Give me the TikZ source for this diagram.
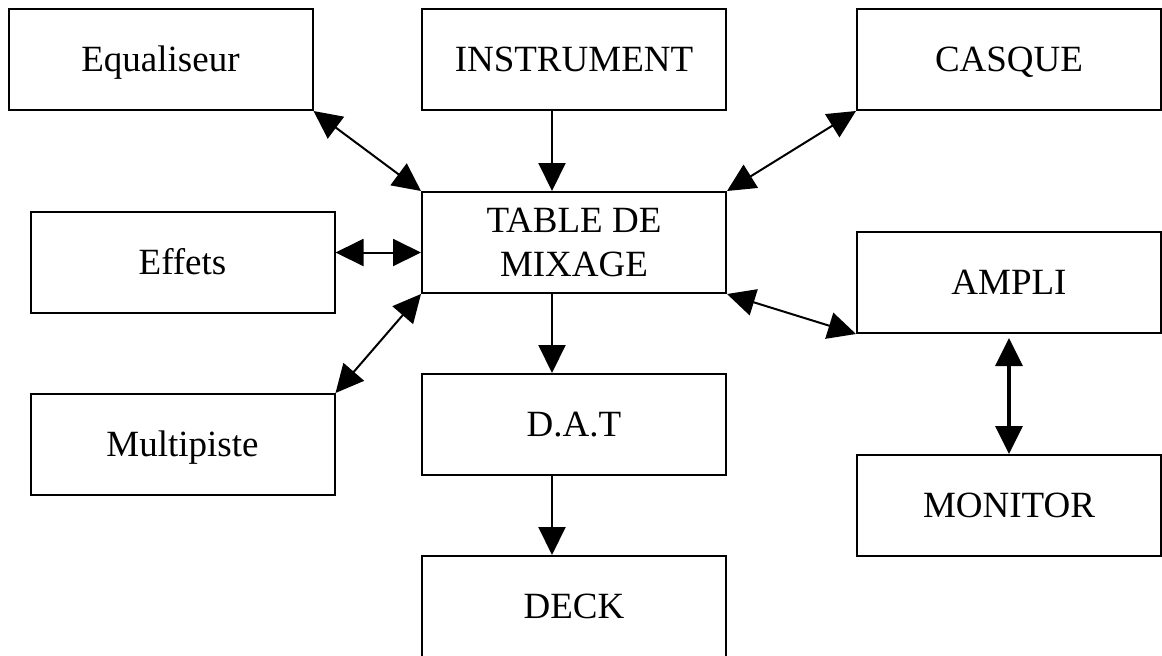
\documentclass[tikz,border=0pt]{standalone}
\usepackage{fontspec}
\setmainfont{Liberation Serif}
\usetikzlibrary{arrows.meta}
\tikzset{
  blk/.style={draw, line width=1pt, minimum width=152pt, minimum height=50.5pt,
    inner sep=0pt, align=center, font=\fontsize{18.5}{22}\selectfont},
  oneline/.style={text height=12.2pt, text depth=0pt},
  link/.style={line width=1pt, -{Triangle[length=14pt,width=13.5pt]}},
  duplex/.style={line width=1pt, {Triangle[length=14pt,width=13.5pt]}-{Triangle[length=14pt,width=13.5pt]}},
}
\begin{document}
\begin{tikzpicture}[x=0.5pt, y=-0.5pt]
\useasboundingbox (0,0) rectangle (1162,655);

% equipment blocks
\node[blk, oneline] (equ)     at (160.5, 59.5)  {Equaliseur};
\node[blk, oneline] (instr)   at (574, 59.5)    {INSTRUMENT};
\node[blk, oneline] (casque)  at (1009, 59.5)   {CASQUE};
\node[blk]          (table)   at (574, 242.5)   {TABLE DE\\MIXAGE};
\node[blk, oneline] (effets)  at (182.5, 262.5) {Effets};
\node[blk, oneline] (ampli)   at (1009, 282.5)  {AMPLI};
\node[blk, oneline] (multi)   at (182.5, 444.5) {Multipiste};
\node[blk, oneline] (dat)     at (574, 424.5)   {D.A.T};
\node[blk, oneline] (monitor) at (1009, 505.5)  {MONITOR};
\node[blk, oneline] (deck)    at (574, 606.5)   {DECK};

% signal flow
\draw[link] ([xshift=-11pt]instr.south) -- ([xshift=-11pt]table.north);
\draw[link] ([xshift=-11pt]table.south) -- ([xshift=-11pt]dat.north);
\draw[link] ([xshift=-11pt]dat.south) -- ([xshift=-11pt]deck.north);

\draw[duplex] (equ.south east) -- (table.north west);
\draw[duplex] (casque.south west) -- (table.north east);
\draw[duplex] ([yshift=5pt]effets.east) -- ([yshift=-5pt]table.west);
\draw[duplex] (multi.north east) -- (table.south west);
\draw[duplex] (table.south east) -- (ampli.south west);
\draw[duplex, line width=1.6pt, shorten <=2pt] (ampli.south) -- (monitor.north);
\end{tikzpicture}
\end{document}
